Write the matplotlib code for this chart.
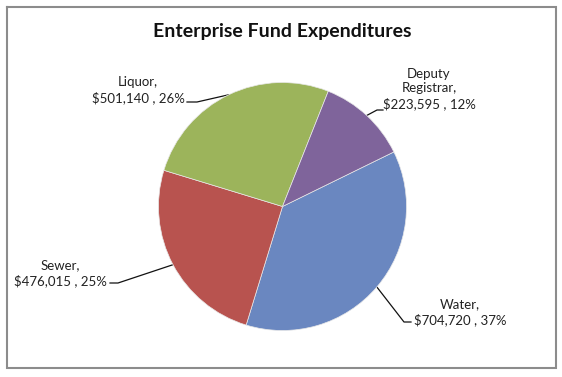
import numpy as np
import matplotlib
matplotlib.use("Agg")
import matplotlib.pyplot as plt

# chart data
categories = ["Water", "Sewer", "Liquor", "Deputy\nRegistrar"]
amounts = [704720, 476015, 501140, 223595]
percents = [37, 25, 26, 12]
colors = ["#6a87c0", "#b8534f", "#9cb45b", "#7f649b"]

W, H = 562, 377
plt.rcParams["font.family"] = ["Lato", "DejaVu Sans"]

fig = plt.figure(figsize=(W / 100, H / 100), dpi=100)

# overlay axes in pixel coords for border, title, labels
ov = fig.add_axes([0, 0, 1, 1])
ov.set_xlim(0, W)
ov.set_ylim(H, 0)
ov.axis("off")

# pie placement (pixels)
cx, cy, r = 282.5, 206.5, 124
pie_ax = fig.add_axes([(cx - r) / W, (H - cy - r) / H, 2 * r / W, 2 * r / H])
wedges, _ = pie_ax.pie(amounts, colors=colors, startangle=26.1, counterclock=False,
                       radius=1, wedgeprops=dict(edgecolor="#e8e8e8", linewidth=0.5))
pie_ax.set_xlim(-1, 1)
pie_ax.set_ylim(-1, 1)
pie_ax.set_aspect("equal")
pie_ax.axis("off")

# chart frame
ov.plot([7, 556, 556, 7, 7], [7, 7, 368, 368, 7], color="#8c8c8c", lw=1.5,
        solid_joinstyle="miter")

ov.text(282, 31, "Enterprise Fund Expenditures", ha="center", va="center",
        fontsize=14, fontweight="bold", color="#111111")

# label layout: text center, line side, elbow x, text-end x, line y
label_pos = [
    (460, 312, 404, 411, 322),
    (60, 273, 118, 110, 283),
    (138, 90, 197, 187, 102),
    (429, 89, 377, 383, 110),
]

for w, cat, amt, pct, (tx, ty, ex, sx, ly) in zip(wedges, categories, amounts,
                                                    percents, label_pos):
    mid = np.deg2rad((w.theta1 + w.theta2) / 2)
    rx = cx + r * np.cos(mid)
    ry = cy - r * np.sin(mid)
    txt = f"{cat},\n${amt:,} , {pct}%"
    ov.text(tx, ty, txt, ha="center", va="center", multialignment="center",
            fontsize=9.5, color="#222222", linespacing=1.25)
    ov.plot([rx, ex, sx], [ry, ly, ly], color="#111111", lw=0.9)

fig.savefig("out.png", dpi=100)
